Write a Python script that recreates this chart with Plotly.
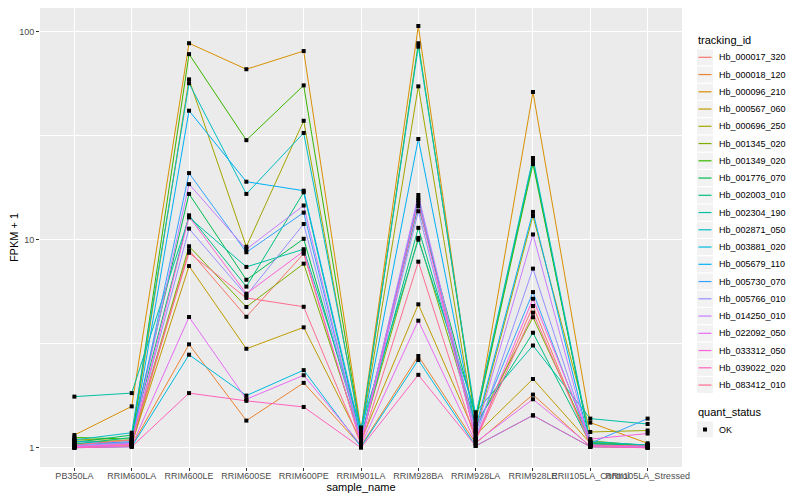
import plotly.graph_objects as go

samples = ["PB350LA", "RRIM600LA", "RRIM600LE", "RRIM600SE", "RRIM600PE", "RRIM901LA",
           "RRIM928BA", "RRIM928LA", "RRIM928LE", "RRII105LA_Control", "RRII105LA_Stressed"]

tracking_ids = ["Hb_000017_320", "Hb_000018_120", "Hb_000096_210", "Hb_000567_060", "Hb_000696_250",
                "Hb_001345_020", "Hb_001349_020", "Hb_001776_070", "Hb_002003_010", "Hb_002304_190",
                "Hb_002871_050", "Hb_003881_020", "Hb_005679_110", "Hb_005730_070", "Hb_005766_010",
                "Hb_014250_010", "Hb_022092_050", "Hb_033312_050", "Hb_039022_020", "Hb_083412_010"]

colors = ["#F8766D", "#EA8331", "#D89000", "#C09B00", "#A3A500", "#7CAE00", "#39B600", "#00BB4E",
          "#00BF7D", "#00C1A3", "#00BFC4", "#00BAE0", "#00B0F6", "#35A2FF", "#9590FF", "#C77CFF",
          "#E76BF3", "#FA62DB", "#FF62BC", "#FF6C91"]

# FPKM + 1 per tracking id, in sample order
hb_000017_320 = [1.02, 1.03, 8.9, 4.26, 8.57, 1.05, 15.5, 1.1, 4.8, 1.02, 1.01]
hb_000018_120 = [1.01, 1.02, 3.14, 1.35, 2.05, 1.02, 2.76, 1.05, 1.8, 1.01, 1.0]
hb_000096_210 = [1.15, 1.58, 88, 66, 80.7, 1.22, 106.5, 1.3, 51.3, 1.32, 1.05]
hb_000567_060 = [1.05, 1.04, 7.47, 2.99, 3.79, 1.08, 4.89, 1.15, 2.14, 1.05, 1.03]
hb_000696_250 = [1.1, 1.08, 59, 9.25, 37.3, 1.15, 54.6, 1.2, 13.0, 1.19, 1.21]
hb_001345_020 = [1.08, 1.06, 9.3, 4.75, 7.67, 1.1, 10.2, 1.25, 4.24, 1.08, 1.02]
hb_001349_020 = [1.12, 1.1, 78, 30.1, 55.2, 1.18, 88, 1.35, 23.1, 1.06, 1.03]
hb_001776_070 = [1.06, 1.15, 16.6, 6.42, 10.1, 1.12, 14.5, 1.4, 24, 1.04, 1.02]
hb_002003_010 = [1.04, 1.12, 13.1, 5.95, 16.9, 1.1, 11.4, 1.3, 3.57, 1.05, 1.02]
hb_002304_190 = [1.76, 1.83, 12.8, 7.4, 9.0, 1.25, 10.0, 1.48, 3.1, 1.38, 1.3]
hb_002871_050 = [1.09, 1.18, 56.5, 16.6, 32.6, 1.2, 84.7, 1.42, 24.7, 1.07, 1.03]
hb_003881_020 = [1.0, 1.01, 2.8, 1.78, 2.36, 1.01, 2.64, 1.02, 1.43, 1.01, 1.01]
hb_005679_110 = [1.07, 1.05, 41.7, 19, 17.2, 1.15, 30.5, 1.25, 13.6, 1.03, 1.02]
hb_005730_070 = [1.03, 1.07, 20.9, 8.7, 13.5, 1.08, 15.8, 1.2, 5.6, 1.05, 1.38]
hb_005766_010 = [1.02, 1.06, 11.3, 5.4, 11.9, 1.06, 13.7, 1.12, 7.26, 1.03, 1.01]
hb_014250_010 = [1.01, 1.05, 18.5, 9.0, 14.6, 1.07, 16.4, 1.18, 10.6, 1.02, 1.01]
hb_022092_050 = [1.0, 1.02, 4.25, 1.71, 2.23, 1.03, 4.08, 1.06, 1.71, 1.02, 1.0]
hb_033312_050 = [1.01, 1.04, 12.9, 5.5, 8.8, 1.05, 15.0, 1.1, 5.2, 1.1, 1.17]
hb_039022_020 = [1.0, 1.01, 1.83, 1.68, 1.57, 1.0, 2.24, 1.02, 1.43, 1.01, 1.0]
hb_083412_010 = [1.03, 1.09, 8.65, 5.25, 4.76, 1.04, 7.84, 1.08, 4.46, 1.03, 1.02]

series_values = [hb_000017_320, hb_000018_120, hb_000096_210, hb_000567_060, hb_000696_250,
                 hb_001345_020, hb_001349_020, hb_001776_070, hb_002003_010, hb_002304_190,
                 hb_002871_050, hb_003881_020, hb_005679_110, hb_005730_070, hb_005766_010,
                 hb_014250_010, hb_022092_050, hb_033312_050, hb_039022_020, hb_083412_010]

quant_status = ["OK"]

FONT = "Liberation Sans, Arial, Helvetica, sans-serif"

# the page body adds an 8px offset; target pixel positions are given in screenshot space
OFF = 8
W, H = 800 - OFF, 500 - OFF
PL, PR, PT, PB = 40 - OFF, 682 - OFF, 0, 467 - OFF


def px_x(px):
    return (px - OFF - PL) / (PR - PL)


def px_y(py):
    return (PB - (py - OFF)) / (PB - PT)


# log range: 1 -> y=447.7, 100 -> y=31.7 (screenshot px); panel top at y=8
per_px = 2.0 / (447.7 - 31.7)
y_lo = 0 - (467 - 447.7) * per_px
y_hi = 0 + (447.7 - 8) * per_px

fig = go.Figure()
for name, col, vals in zip(tracking_ids, colors, series_values):
    fig.add_trace(go.Scatter(x=samples, y=vals, mode="lines", name=name,
                             line=dict(color=col, width=1), showlegend=False))

all_x, all_y = [], []
for vals in series_values:
    all_x += samples
    all_y += vals
fig.add_trace(go.Scatter(x=all_x, y=all_y, mode="markers", name=quant_status[0],
                         marker=dict(symbol="square", color="black", size=4, line=dict(width=0)),
                         showlegend=False, cliponaxis=False))

shapes = []
annotations = []
KX0, KX1 = 697, 713
TX = 716.5
annotations.append(dict(text="tracking_id", x=px_x(696), y=px_y(40), xref="paper", yref="paper",
                        xanchor="left", yanchor="middle", showarrow=False,
                        font=dict(size=11, color="black", family=FONT)))
for i, (name, col) in enumerate(zip(tracking_ids, colors)):
    cy = 57.3 + 17.25 * i
    shapes.append(dict(type="rect", xref="paper", yref="paper",
                       x0=px_x(KX0), x1=px_x(KX1), y0=px_y(cy - 8), y1=px_y(cy + 8),
                       fillcolor="#F2F2F2", line=dict(width=0), layer="below"))
    shapes.append(dict(type="line", xref="paper", yref="paper",
                       x0=px_x(KX0 + 1.5), x1=px_x(KX1 - 1.5), y0=px_y(cy), y1=px_y(cy),
                       line=dict(color=col, width=1.2)))
    annotations.append(dict(text=name, x=px_x(TX), y=px_y(cy), xref="paper", yref="paper",
                            xanchor="left", yanchor="middle", showarrow=False,
                            font=dict(size=9, color="black", family=FONT)))

annotations.append(dict(text="quant_status", x=px_x(696), y=px_y(412), xref="paper", yref="paper",
                        xanchor="left", yanchor="middle", showarrow=False,
                        font=dict(size=11, color="black", family=FONT)))
cy = 429.5
shapes.append(dict(type="rect", xref="paper", yref="paper",
                   x0=px_x(KX0), x1=px_x(KX1), y0=px_y(cy - 8), y1=px_y(cy + 8),
                   fillcolor="#F2F2F2", line=dict(width=0), layer="below"))
shapes.append(dict(type="rect", xref="paper", yref="paper",
                   x0=px_x(703), x1=px_x(707), y0=px_y(cy - 2), y1=px_y(cy + 2),
                   fillcolor="black", line=dict(width=0)))
annotations.append(dict(text=quant_status[0], x=px_x(TX), y=px_y(cy), xref="paper", yref="paper",
                        xanchor="left", yanchor="middle", showarrow=False,
                        font=dict(size=9, color="black", family=FONT)))

fig.update_layout(
    width=W, height=H,
    margin=dict(l=PL, r=W - PR, t=PT, b=H - PB, pad=0, autoexpand=False),
    paper_bgcolor="white", plot_bgcolor="#EBEBEB",
    font=dict(family=FONT, size=9, color="#4D4D4D"),
    showlegend=False,
    shapes=shapes, annotations=annotations,
    xaxis=dict(type="category", range=[-0.6, 10.6], showgrid=True, gridcolor="white",
               gridwidth=1.1, zeroline=False, ticks="outside", ticklen=3, tickcolor="#333333",
               tickangle=0, automargin=False, ticklabelstandoff=-3,
               tickfont=dict(size=9, color="#4D4D4D"),
               title=dict(text="sample_name", font=dict(size=11, color="black"), standoff=1)),
    yaxis=dict(type="log", range=[y_lo, y_hi], tickvals=[1, 10, 100], ticktext=["1", "10", "100"],
               showgrid=True, gridcolor="white", gridwidth=1.1, zeroline=False,
               ticks="outside", ticklen=3, tickcolor="#333333", automargin=False,
               tickfont=dict(size=9, color="#4D4D4D"),
               minor=dict(tickvals=[3.1623, 31.623], showgrid=True, gridcolor="white", gridwidth=0.5,
                          ticks=""),
               title=dict(text="FPKM + 1", font=dict(size=11, color="black"), standoff=5)),
)

fig.write_html("out.html")
